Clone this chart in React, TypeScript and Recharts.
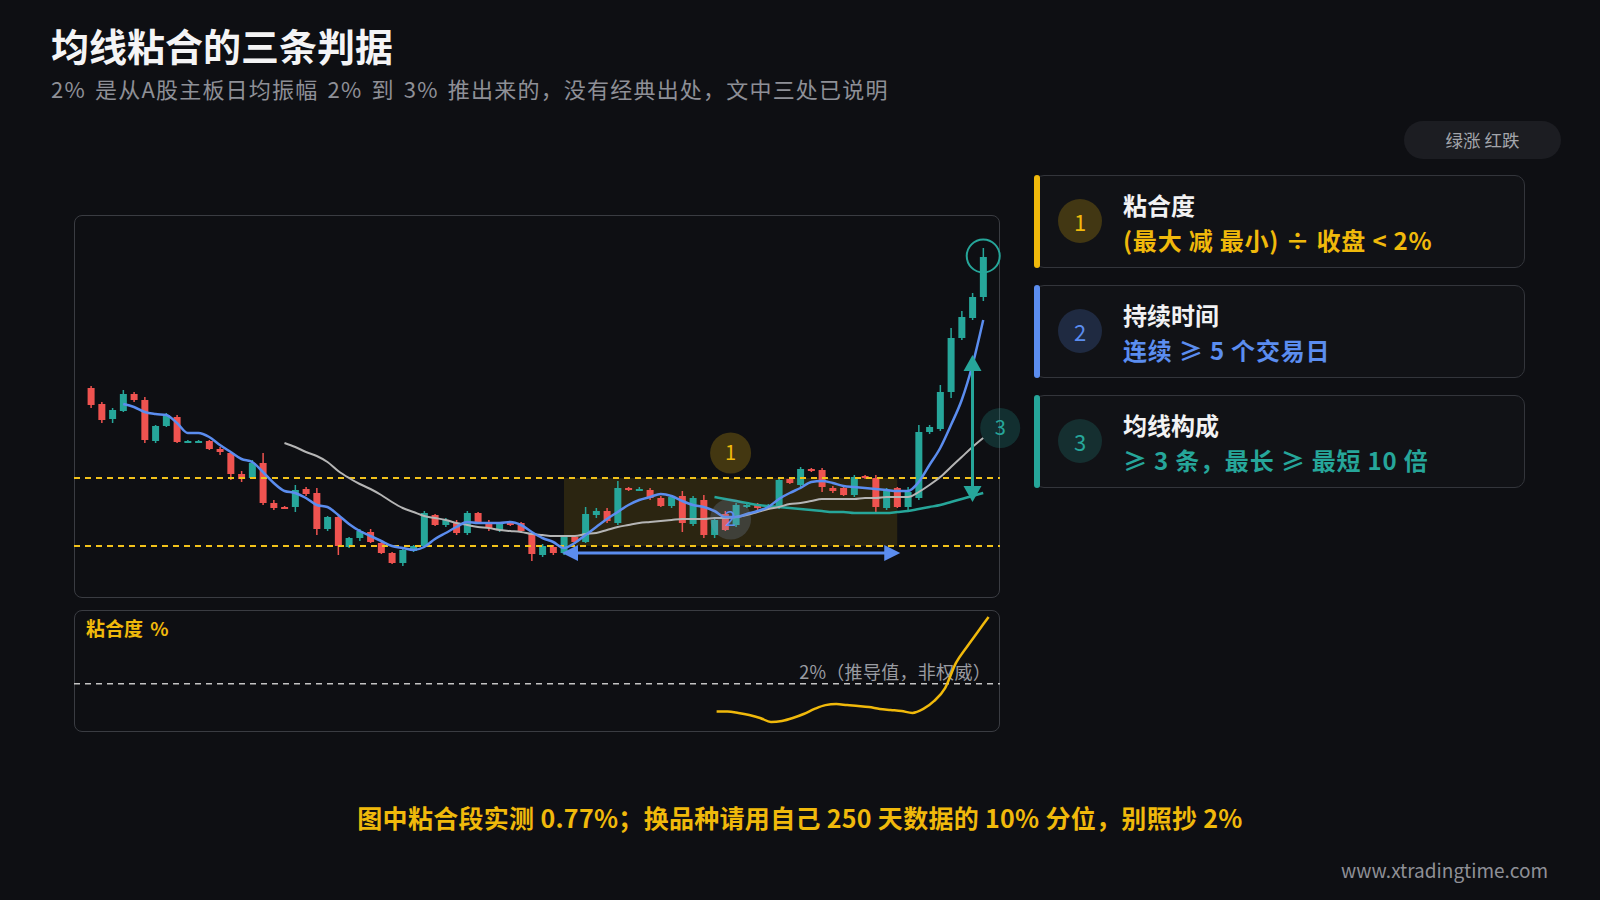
import React from "react";
import {
  ComposedChart,
  LineChart,
  Bar,
  Line,
  XAxis,
  YAxis,
  ReferenceLine,
  ReferenceArea,
  ReferenceDot,
} from "recharts";

const UP = "#26a69a";
const DOWN = "#ef5350";
const BLUE = "#5b8def";
const YELLOW = "#f0b90b";
const GRAY = "#b5b5b5";
const BG = "#0e0f13";
const FONT = "'Noto Sans CJK SC', 'Noto Sans', sans-serif";

// K 线（84 个交易日）
const opens = [
  13.16, 12.84, 12.54, 12.7, 13.04, 12.92, 12.1, 12.4, 12.58, 12.08,
  12.08, 12.1, 11.94, 11.86, 11.44, 11.36, 11.66, 10.86, 10.78, 10.78,
  11.14, 11.06, 10.34, 10.58, 9.98, 10.16, 10.28, 10.06, 9.86, 9.66,
  9.9, 10.0, 10.62, 10.42, 10.46, 10.26, 10.66, 10.48, 10.32, 10.48,
  10.46, 10.26, 9.82, 9.98, 9.86, 10.18, 10.08, 10.62, 10.7, 10.46,
  11.16, 11.12, 11.12, 10.96, 10.8, 11.0, 10.44, 10.92, 10.22, 10.64,
  10.42, 10.78, 10.82, 10.76, 10.78, 11.34, 11.22, 11.54, 11.52, 11.16,
  11.16, 11.02, 11.4, 11.36, 10.76, 11.16, 10.78, 10.96, 12.28, 12.34,
  13.08, 14.16, 14.56, 14.98,
];
const highs = [
  13.2, 12.88, 12.76, 13.12, 13.08, 12.98, 12.42, 12.66, 12.62, 12.12,
  12.12, 12.12, 11.98, 11.88, 11.5, 11.72, 11.86, 10.92, 10.8, 11.22,
  11.18, 11.16, 10.6, 10.6, 10.18, 10.34, 10.34, 10.12, 9.88, 9.96,
  10.02, 10.7, 10.64, 10.56, 10.52, 10.7, 10.68, 10.52, 10.48, 10.5,
  10.48, 10.28, 10.04, 10.02, 10.22, 10.22, 10.78, 10.76, 10.76, 11.3,
  11.18, 11.18, 11.16, 11.0, 11.02, 11.1, 11.0, 11.02, 10.56, 10.7,
  10.86, 10.84, 10.86, 10.84, 11.36, 11.36, 11.58, 11.56, 11.56, 11.2,
  11.2, 11.42, 11.42, 11.42, 11.16, 11.18, 11.18, 12.42, 12.42, 13.22,
  14.36, 14.7, 15.06, 15.96,
];
const lows = [
  12.76, 12.46, 12.46, 12.68, 12.88, 12.06, 12.06, 12.38, 12.06, 12.06,
  12.06, 11.92, 11.82, 11.32, 11.28, 11.34, 10.82, 10.72, 10.74, 10.68,
  11.0, 10.22, 10.3, 9.82, 9.96, 10.1, 10.06, 9.84, 9.64, 9.6,
  9.88, 9.98, 10.4, 10.38, 10.22, 10.22, 10.46, 10.3, 10.28, 10.4,
  10.28, 9.7, 9.78, 9.82, 9.82, 10.04, 10.06, 10.56, 10.46, 10.42,
  11.1, 11.1, 10.92, 10.78, 10.76, 10.28, 10.4, 10.16, 10.16, 10.3,
  10.38, 10.76, 10.72, 10.74, 10.74, 11.24, 11.18, 11.48, 11.08, 11.06,
  11.0, 10.98, 11.34, 10.68, 10.72, 10.76, 10.68, 10.92, 12.24, 12.3,
  12.96, 14.12, 14.52, 14.9,
];
const closes = [
  12.82, 12.52, 12.72, 13.04, 12.92, 12.12, 12.4, 12.62, 12.08, 12.1,
  12.1, 11.94, 11.88, 11.44, 11.34, 11.66, 10.86, 10.76, 10.76, 11.12,
  11.04, 10.34, 10.58, 10.0, 10.16, 10.3, 10.08, 9.86, 9.66, 9.92,
  10.0, 10.66, 10.42, 10.52, 10.26, 10.66, 10.48, 10.36, 10.46, 10.42,
  10.3, 9.84, 10.0, 9.86, 10.18, 10.08, 10.64, 10.7, 10.5, 11.16,
  11.12, 11.14, 10.96, 10.8, 10.98, 10.46, 10.96, 10.22, 10.52, 10.32,
  10.82, 10.82, 10.76, 10.82, 11.32, 11.26, 11.54, 11.5, 11.18, 11.1,
  11.02, 11.38, 11.36, 10.78, 11.12, 10.78, 11.08, 12.28, 12.38, 13.08,
  14.16, 14.58, 14.98, 15.78,
];

// 均线：短（蓝）、中（灰）、长（绿），各自从第几根开始
const ma5From = 3;
const ma5 = [
  12.84, 12.78, 12.68, 12.64, 12.62, 12.46, 12.26, 12.26, 12.18, 12.02,
  11.88, 11.74, 11.68, 11.48, 11.26, 11.1, 11.06, 10.96, 10.82, 10.78,
  10.62, 10.44, 10.3, 10.2, 10.1, 10.0, 9.96, 9.92, 9.98, 10.14,
  10.26, 10.38, 10.48, 10.46, 10.46, 10.46, 10.48, 10.42, 10.28, 10.16,
  10.08, 9.96, 10.06, 10.22, 10.38, 10.54, 10.68, 10.82, 10.92, 10.98,
  11.04, 11.0, 10.9, 10.82, 10.78, 10.7, 10.58, 10.58, 10.64, 10.7,
  10.78, 10.94, 11.06, 11.16, 11.28, 11.3, 11.26, 11.2, 11.18, 11.16,
  11.14, 11.12, 11.1, 11.1, 11.28, 11.62, 11.96, 12.42, 12.92, 13.62,
  14.52,
];
const ma20From = 18;
const ma20 = [
  12.06, 11.98, 11.88, 11.8, 11.68, 11.5, 11.36, 11.24, 11.14, 11.02,
  10.88, 10.76, 10.68, 10.6, 10.56, 10.52, 10.46, 10.42, 10.38, 10.36,
  10.32, 10.3, 10.28, 10.24, 10.22, 10.2, 10.2, 10.2, 10.24, 10.26,
  10.32, 10.38, 10.42, 10.46, 10.48, 10.5, 10.52, 10.54, 10.54, 10.54,
  10.56, 10.56, 10.58, 10.62, 10.68, 10.74, 10.78, 10.84, 10.86, 10.9,
  10.94, 10.94, 10.94, 10.94, 10.96, 10.96, 10.98, 10.98, 10.98, 11.08,
  11.22, 11.38, 11.58, 11.78, 11.98, 12.16,
];
const ma60From = 58;
const ma60 = [
  10.98, 10.94, 10.9, 10.86, 10.82, 10.8, 10.78, 10.76, 10.74, 10.72,
  10.7, 10.68, 10.68, 10.66, 10.66, 10.66, 10.66, 10.68, 10.7, 10.74,
  10.78, 10.82, 10.88, 10.94, 11.0, 11.06,
];

// 粘合度 %
const stickFrom = 58;
const stick = [
  0.69, 0.69, 0.62, 0.52, 0.38, 0.19, 0.24, 0.38, 0.57, 0.81,
  0.99, 1.04, 0.99, 0.95, 0.9, 0.81, 0.76, 0.71, 0.62, 0.81,
  1.19, 1.8, 2.99, 3.75, 4.46, 5.17,
];
const stickLimit = 2;

// 标注
const bandTop = 11.36;
const bandBottom = 10.0;
const zoneStart = 45;
const zoneEnd = 76;
const spanY = 9.86;
const liftDay = 83;
const liftTop = 13.82;
const liftBottom = 10.88;

const at = (arr: number[], from: number, i: number) =>
  i >= from && i - from < arr.length ? arr[i - from] : null;

const rows = opens.map((o, i) => ({
  day: i + 1,
  o,
  h: highs[i],
  l: lows[i],
  c: closes[i],
  ma5: at(ma5, ma5From, i),
  ma20: at(ma20, ma20From, i),
  ma60: at(ma60, ma60From, i),
  stick: at(stick, stickFrom, i),
}));

const HALF = 903 / 84 / 2;

const Candle = (props: any) => {
  const { x, y, width, height, payload } = props;
  const { o, h, l, c } = payload;
  const color = c >= o ? UP : DOWN;
  const pp = height / (h - l);
  const top = y + (h - Math.max(o, c)) * pp;
  const bot = y + (h - Math.min(o, c)) * pp;
  const cx = x + width / 2;
  return (
    <g>
      <line x1={cx} x2={cx} y1={y} y2={y + height} stroke={color} strokeWidth={1.5} />
      <rect x={x} y={top} width={width} height={Math.max(bot - top, 2)} fill={color} />
    </g>
  );
};

const SpanArrow = (p: any) => {
  const { x1, x2, y1 } = p;
  const l = x1 - 2;
  const r = x2 + 3;
  return (
    <g>
      <line x1={l + 10} x2={r - 10} y1={y1} y2={y1} stroke={BLUE} strokeWidth={3} />
      <polygon points={`${l},${y1} ${l + 16},${y1 - 8} ${l + 16},${y1 + 8}`} fill={BLUE} />
      <polygon points={`${r},${y1} ${r - 16},${y1 - 8} ${r - 16},${y1 + 8}`} fill={BLUE} />
    </g>
  );
};

const LiftArrow = (p: any) => {
  const { x1, y1, y2 } = p;
  const t = Math.min(y1, y2);
  const b = Math.max(y1, y2);
  return (
    <g>
      <line x1={x1} x2={x1} y1={t + 10} y2={b - 10} stroke={UP} strokeWidth={3} />
      <polygon points={`${x1},${t} ${x1 - 9},${t + 16} ${x1 + 9},${t + 16}`} fill={UP} />
      <polygon points={`${x1},${b} ${x1 - 9},${b - 16} ${x1 + 9},${b - 16}`} fill={UP} />
    </g>
  );
};

const badge = (label: string, fill: string, color: string, dx: number, r = 20.5) =>
  (p: any) => (
    <g>
      <circle cx={p.cx + dx} cy={p.cy} r={r} fill={fill} />
      <text
        x={p.cx + dx}
        y={p.cy}
        dy={7}
        textAnchor="middle"
        fill={color}
        fontSize={20}
        fontFamily={FONT}
      >
        {label}
      </text>
    </g>
  );

const PeakRing = (p: any) => (
  <circle cx={p.cx} cy={p.cy} r={16.5} fill="none" stroke={UP} strokeWidth={2} />
);

const ZoneShape = (p: any) => (
  <rect
    x={p.x + HALF}
    y={p.y}
    width={p.width - 2 * HALF}
    height={p.height}
    fill="rgba(240,185,11,0.13)"
  />
);

const cards = [
  { n: "1", title: "粘合度", rule: "(最大 减 最小) ÷ 收盘 < 2%", color: YELLOW, dim: "rgba(240,185,11,0.22)" },
  { n: "2", title: "持续时间", rule: "连续 ≥ 5 个交易日", color: BLUE, dim: "rgba(91,141,239,0.2)" },
  { n: "3", title: "均线构成", rule: "≥ 3 条，最长 ≥ 最短 10 倍", color: UP, dim: "rgba(38,166,154,0.2)" },
];

const abs = (s: React.CSSProperties): React.CSSProperties => ({ position: "absolute", ...s });

export default function App() {
  return (
    <div style={abs({ left: 0, top: 0, width: 1600, height: 900, background: BG, fontFamily: FONT, overflow: "hidden" })}>
      <div style={abs({ left: 51, top: 26, fontSize: 38, lineHeight: "38px", fontWeight: 700, color: "#f4f4f5" })}>
        均线粘合的三条判据
      </div>
      <div
        style={abs({
          left: 51, top: 77, fontSize: 22, lineHeight: "22px", color: "#8e9097",
          whiteSpace: "nowrap", letterSpacing: 1.2, wordSpacing: 3,
        })}
      >
        2% 是从A股主板日均振幅 2% 到 3% 推出来的，没有经典出处，文中三处已说明
      </div>

      <div
        style={abs({
          left: 1404, top: 121, width: 157, height: 38, borderRadius: 19, background: "#1c1d22",
          color: "#a3a5ab", fontSize: 17.5, lineHeight: "38px", textAlign: "center",
        })}
      >
        绿涨 红跌
      </div>

      {cards.map((c, i) => (
        <div
          key={c.n}
          style={abs({
            left: 1034, top: 175 + i * 110, width: 491, height: 93, boxSizing: "border-box",
            border: "1.5px solid #33353b", borderRadius: 10, background: "#111216",
          })}
        >
          <div style={abs({ left: -1.5, top: -1.5, width: 6, height: 93, borderRadius: 3, background: c.color })} />
          <div
            style={abs({
              left: 23, top: 23, width: 44, height: 44, borderRadius: 22, background: c.dim,
              color: c.color, fontSize: 22, lineHeight: "44px", textAlign: "center",
            })}
          >
            {c.n}
          </div>
          <div style={abs({ left: 88, top: 16, fontSize: 24, lineHeight: "26px", fontWeight: 700, color: "#f2f2f3" })}>
            {c.title}
          </div>
          <div
            style={abs({
              left: 88, top: 51, fontSize: 24, lineHeight: "26px", fontWeight: 600, color: c.color,
              whiteSpace: "nowrap", letterSpacing: 0.8,
            })}
          >
            {c.rule}
          </div>
        </div>
      ))}

      <div style={abs({ left: 74, top: 215, width: 926, height: 383, boxSizing: "border-box", border: "1.5px solid #3a3c42", borderRadius: 8 })} />
      <div style={abs({ left: 74, top: 610, width: 926, height: 122, boxSizing: "border-box", border: "1.5px solid #3a3c42", borderRadius: 8 })} />

      <div style={abs({ left: 74, top: 215 })}>
        <ComposedChart width={960} height={383} data={rows} margin={{ top: 11, right: 34, bottom: 12, left: 0 }}>
          <XAxis dataKey="day" type="category" hide padding={{ left: 11.6, right: 11.4 }} />
          <YAxis type="number" domain={[9.2, 16.4]} hide allowDataOverflow />
          <ReferenceArea x1={zoneStart} x2={zoneEnd} y1={bandBottom} y2={bandTop} shape={ZoneShape} />
          <ReferenceLine y={bandTop} stroke="#f2c21b" strokeWidth={2} strokeDasharray="6 5" />
          <ReferenceLine y={bandBottom} stroke="#f2c21b" strokeWidth={2} strokeDasharray="6 5" />
          <Bar dataKey={(d: any) => [d.l, d.h]} barSize={7} shape={Candle} isAnimationActive={false} />
          <Line dataKey="ma60" type="monotone" stroke={UP} strokeWidth={2.5} dot={false} isAnimationActive={false} />
          <Line dataKey="ma20" type="monotone" stroke={GRAY} strokeWidth={2} dot={false} isAnimationActive={false} />
          <Line dataKey="ma5" type="monotone" stroke={BLUE} strokeWidth={2.5} dot={false} isAnimationActive={false} />
          <ReferenceLine
            segment={[{ x: zoneStart, y: spanY }, { x: zoneEnd, y: spanY }]}
            shape={SpanArrow}
          />
          <ReferenceLine
            segment={[{ x: liftDay, y: liftTop }, { x: liftDay, y: liftBottom }]}
            shape={LiftArrow}
          />
          <ReferenceDot x={60} y={11.86} shape={badge("1", "rgba(240,185,11,0.24)", YELLOW, HALF)} />
          <ReferenceDot x={60} y={10.54} shape={badge("2", "rgba(130,150,190,0.24)", BLUE, HALF)} />
          <ReferenceDot x={84} y={12.36} shape={badge("3", "rgba(38,166,154,0.22)", UP, 17, 20)} />
          <ReferenceDot x={84} y={15.8} shape={PeakRing} />
        </ComposedChart>
      </div>

      <div style={abs({ left: 86, top: 618, fontSize: 19, lineHeight: "20px", fontWeight: 700, color: YELLOW, wordSpacing: 3 })}>
        粘合度 %
      </div>
      <div style={abs({ right: 609, top: 661, fontSize: 18, lineHeight: "20px", color: "#9a9ca2", whiteSpace: "nowrap", letterSpacing: 0.3 })}>
        2%（推导值，非权威）
      </div>
      <div style={abs({ left: 74, top: 610 })}>
        <LineChart width={926} height={122} data={rows} margin={{ top: 0, right: 0, bottom: 6, left: 0 }}>
          <XAxis dataKey="day" type="category" hide padding={{ left: 11.6, right: 11.4 }} />
          <YAxis type="number" domain={[0, 5.5]} hide allowDataOverflow />
          <ReferenceLine y={stickLimit} stroke="#c4c4c4" strokeWidth={1.5} strokeDasharray="6 5" />
          <Line dataKey="stick" type="monotone" stroke={YELLOW} strokeWidth={2.5} dot={false} isAnimationActive={false} />
        </LineChart>
      </div>

      <div
        style={abs({
          left: 0, top: 803, width: 1600, textAlign: "center", fontSize: 25, lineHeight: "28px",
          fontWeight: 600, color: YELLOW, letterSpacing: 0.3,
        })}
      >
        图中粘合段实测 0.77%；换品种请用自己 250 天数据的 10% 分位，别照抄 2%
      </div>
      <div style={abs({ right: 52, top: 859, fontSize: 19, lineHeight: "22px", color: "#8e9097" })}>
        www.xtradingtime.com
      </div>
    </div>
  );
}
